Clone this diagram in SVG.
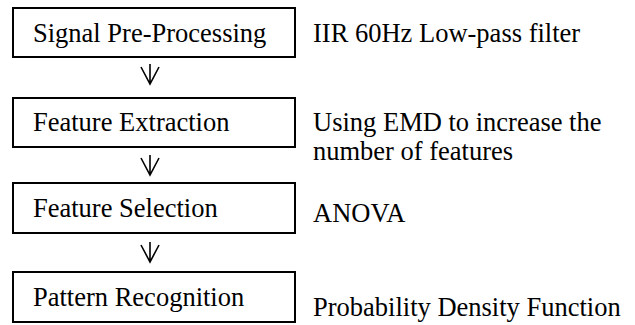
<svg xmlns="http://www.w3.org/2000/svg" width="635" height="325" viewBox="0 0 635 325">
<style>
.box{fill:#fff;stroke:#000;stroke-width:2}
.t{font-family:"Liberation Serif","Times New Roman",serif;font-size:26.5px;fill:#000}
.arr{fill:none;stroke:#000;stroke-width:1.6}
</style>
<rect width="635" height="325" fill="#fff"/>
<g id="n1"><rect class="box" x="13" y="8" width="282" height="49"/><text class="t" x="33" y="42">Signal Pre-Processing</text></g>
<g id="n2"><rect class="box" x="13" y="98" width="282" height="49"/><text class="t" x="33" y="131">Feature Extraction</text></g>
<g id="n3"><rect class="box" x="13" y="183" width="282" height="50"/><text class="t" x="33" y="217">Feature Selection</text></g>
<g id="n4"><rect class="box" x="13" y="272" width="282" height="50"/><text class="t" x="33" y="306">Pattern Recognition</text></g>
<g id="labels">
<text class="t" x="313" y="42">IIR 60Hz Low-pass filter</text>
<text class="t" x="313" y="131">Using EMD to increase the</text>
<text class="t" x="313" y="160">number of features</text>
<text class="t" x="313" y="222">ANOVA</text>
<text class="t" x="313" y="316">Probability Density Function</text>
</g>
<g id="connectors">
<path class="arr" d="M150 64V84M141 67L150 84L159 67"/>
<path class="arr" d="M150 155V175M141 158L150 175L159 158"/>
<path class="arr" d="M150 242V262M141 245L150 262L159 245"/>
</g>
</svg>
